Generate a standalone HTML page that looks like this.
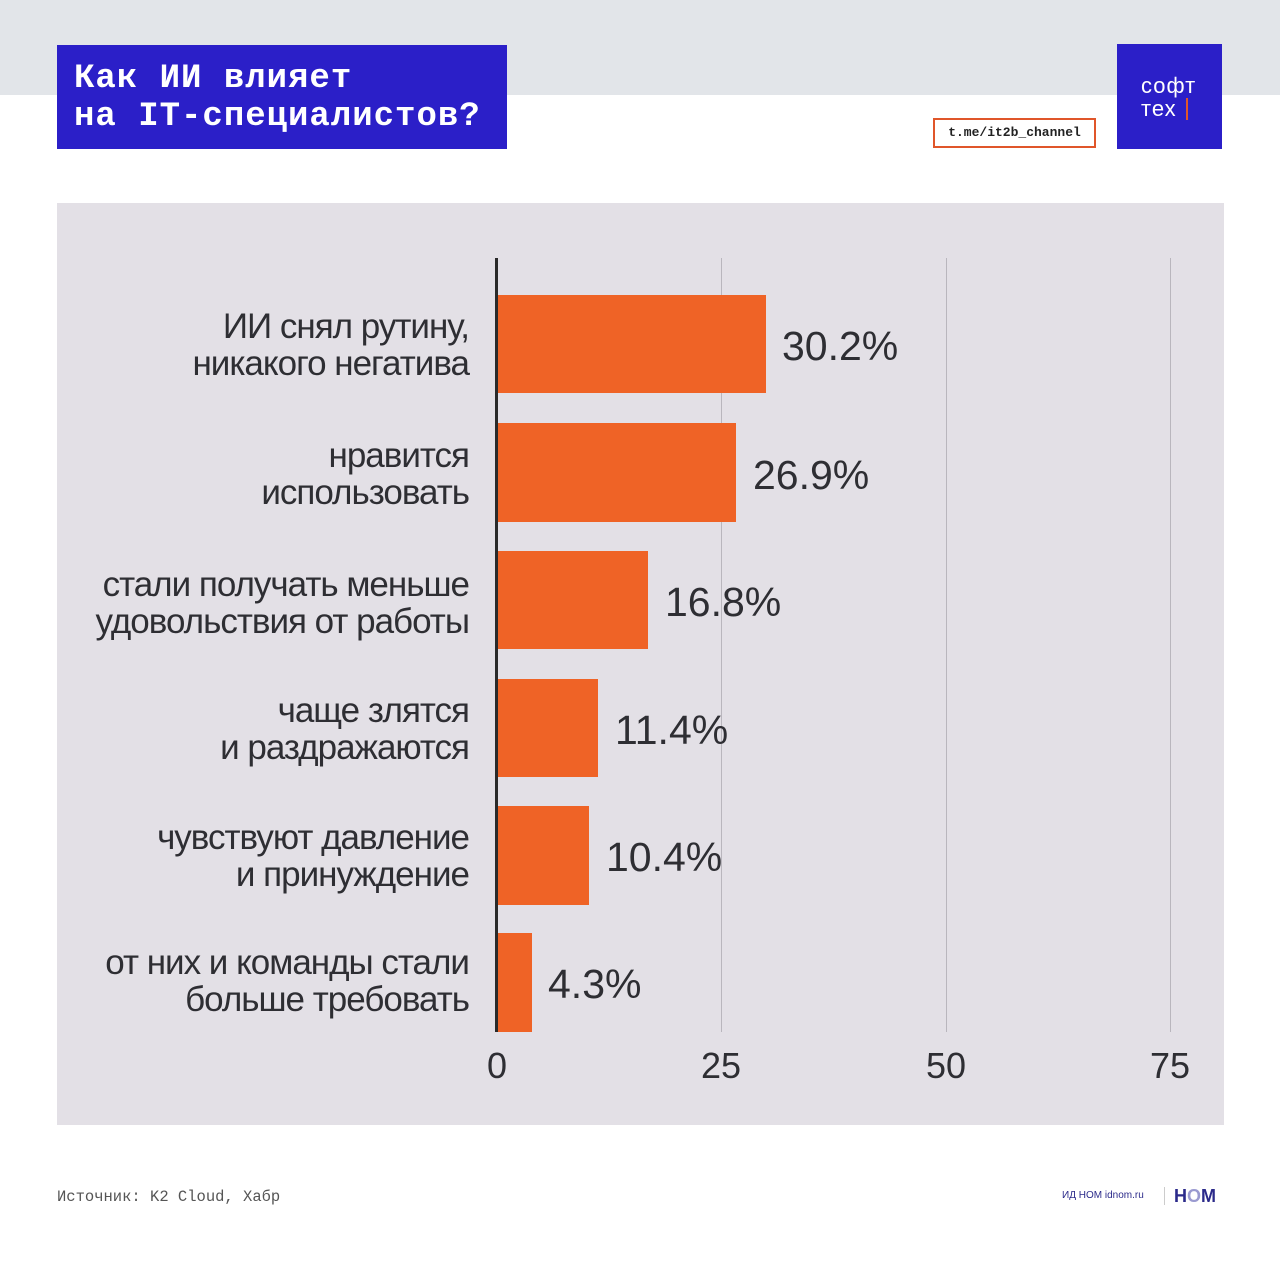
<!DOCTYPE html>
<html><head><meta charset="utf-8"><style>
body{margin:0;width:1280px;height:1280px;background:#fff;position:relative;overflow:hidden;font-family:"Liberation Sans",sans-serif}
.a{position:absolute}
.lbl{position:absolute;right:811px;text-align:right;font-size:35px;line-height:37px;color:#2e2e33;letter-spacing:-1px;font-family:"Liberation Sans Narrow","Liberation Sans",sans-serif}
.bar{position:absolute;left:498px;background:#ef6326}
.val{position:absolute;font-size:41px;color:#2e2e33;font-family:"Liberation Sans Narrow","Liberation Sans",sans-serif}
.g{position:absolute;top:258px;height:774px;width:1px;background:#b9b6bd}
.t{position:absolute;top:1045px;font-size:36px;color:#2e2e33;width:80px;margin-left:-40px;text-align:center;font-family:"Liberation Sans Narrow","Liberation Sans",sans-serif}
</style></head><body>
<div class="a" style="left:0;top:0;width:1280px;height:95px;background:#e2e5e9"></div>
<div class="a" style="left:57px;top:45px;width:450px;height:104px;background:#2b1fc8"></div>
<div class="a" style="left:74px;top:60px;color:#fff;font-family:'Liberation Mono',monospace;font-weight:bold;font-size:34px;line-height:38px;letter-spacing:1px">Как ИИ влияет<br>на IT-специалистов?</div>
<div class="a" style="left:933px;top:118px;width:163px;height:30px;border:2px solid #e0562a;box-sizing:border-box;font-family:'Liberation Mono',monospace;font-size:13px;font-weight:bold;line-height:26px;text-align:center;color:#222">t.me/it2b_channel</div>
<div class="a" style="left:1117px;top:44px;width:105px;height:105px;background:#2b1fc8"></div>
<div class="a" style="left:1141px;top:74px;color:#fff;font-size:22px;line-height:23px;letter-spacing:1px">софт<br>тех</div>
<div class="a" style="left:1186px;top:98px;width:2px;height:22px;background:#e0562a"></div>
<div class="a" style="left:57px;top:203px;width:1167px;height:922px;background:#e3e0e6"></div>
<div class="g" style="left:721px"></div><div class="g" style="left:946px"></div><div class="g" style="left:1170px"></div>
<div class="a" style="left:495px;top:258px;width:3px;height:774px;background:#2a2a2a"></div>
<div class="bar" style="top:295px;height:98px;width:268px"></div>
<div class="bar" style="top:423px;height:99px;width:238px"></div>
<div class="bar" style="top:551px;height:98px;width:150px"></div>
<div class="bar" style="top:679px;height:98px;width:100px"></div>
<div class="bar" style="top:806px;height:99px;width:91px"></div>
<div class="bar" style="top:933px;height:99px;width:34px"></div>
<div class="val" style="left:782px;top:323px">30.2%</div>
<div class="val" style="left:753px;top:452px">26.9%</div>
<div class="val" style="left:665px;top:579px">16.8%</div>
<div class="val" style="left:615px;top:707px">11.4%</div>
<div class="val" style="left:606px;top:834px">10.4%</div>
<div class="val" style="left:548px;top:961px">4.3%</div>
<div class="lbl" style="top:308px">ИИ снял рутину,<br>никакого негатива</div>
<div class="lbl" style="top:437px">нравится<br>использовать</div>
<div class="lbl" style="top:566px">стали получать меньше<br>удовольствия от работы</div>
<div class="lbl" style="top:692px">чаще злятся<br>и раздражаются</div>
<div class="lbl" style="top:819px">чувствуют давление<br>и принуждение</div>
<div class="lbl" style="top:944px">от них и команды стали<br>больше требовать</div>
<div class="t" style="left:497px">0</div><div class="t" style="left:721px">25</div><div class="t" style="left:946px">50</div><div class="t" style="left:1170px">75</div>
<div class="a" style="left:57px;top:1188px;font-family:'Liberation Mono',monospace;font-size:15.5px;color:#555">Источник: K2 Cloud, Хабр</div>
<div class="a" style="left:1062px;top:1190px;font-size:10px;color:#2b2a8a">ИД НОМ idnom.ru</div>
<div class="a" style="left:1164px;top:1187px;width:1px;height:18px;background:#ccc"></div>
<div class="a" style="left:1174px;top:1186px;font-size:18px;font-weight:bold;color:#2b2a8a">H<span style="color:#9a9ad0">O</span>M</div>
</body></html>
